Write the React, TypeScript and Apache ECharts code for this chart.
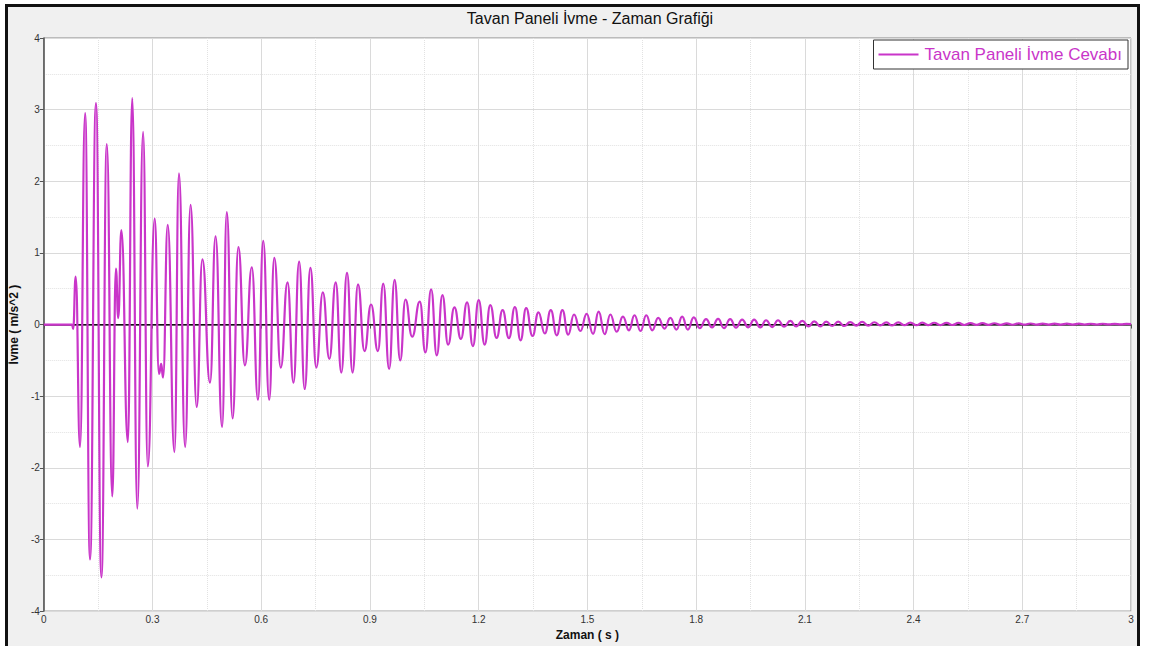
import React, { useEffect, useRef } from "react";
import * as echarts from "echarts";

const chartTitle = "Tavan Paneli İvme - Zaman Grafiği";
const seriesName = "Tavan Paneli İvme Cevabı";
const xAxisName = "Zaman ( s )";
const yAxisName = "İvme ( m/s^2 )";

// Extrema (peaks / troughs), time in s
const times = [
  0, 0.078, 0.081, 0.088, 0.1, 0.114, 0.1275, 0.144, 0.159, 0.174, 0.189, 0.199, 0.2055, 0.214,
  0.232, 0.244, 0.258, 0.274, 0.287, 0.306, 0.318, 0.324, 0.329, 0.342, 0.3605, 0.373, 0.39,
  0.405, 0.422, 0.4376, 0.4587, 0.474, 0.492, 0.505, 0.521, 0.537, 0.555, 0.574, 0.591, 0.6055,
  0.622, 0.636, 0.654, 0.6725, 0.689, 0.7046, 0.72, 0.7357, 0.752, 0.77, 0.788, 0.8055, 0.821,
  0.8367, 0.852, 0.867, 0.885, 0.903, 0.922, 0.9367, 0.953, 0.968, 0.9835, 0.998, 1.0165,
  1.0376, 1.053, 1.0688, 1.0844, 1.1, 1.1156, 1.133, 1.151, 1.168, 1.184, 1.2, 1.2165, 1.232,
  1.2495, 1.266, 1.2835, 1.3, 1.3156, 1.331, 1.3486, 1.365, 1.3825, 1.399, 1.4156, 1.431, 1.447,
  1.463, 1.4807, 1.498, 1.5157, 1.531, 1.5477, 1.5633, 1.5807, 1.598, 1.6147, 1.63, 1.6467,
  1.6624, 1.679, 1.6954, 1.7128, 1.729, 1.7458, 1.7615, 1.777, 1.7936, 1.81, 1.8275, 1.844,
  1.8606, 1.877, 1.894, 1.91, 1.927, 1.944, 1.96, 1.977, 1.993, 2.01, 2.026, 2.043, 2.06, 2.076,
  2.093, 2.11, 2.126, 2.143, 2.159, 2.176, 2.192, 2.209, 2.225, 2.242, 2.258, 2.275, 2.292,
  2.308, 2.325, 2.341, 2.358, 2.375, 2.391, 2.408, 2.424, 2.441, 2.457, 2.474, 2.491, 2.507,
  2.524, 2.54, 2.557, 2.574, 2.59, 2.607, 2.623, 2.64, 2.657, 2.673, 2.69, 2.706, 2.723, 2.74,
  2.756, 2.773, 2.789, 2.806, 2.823, 2.839, 2.856, 2.872, 2.889, 2.906, 2.922, 2.939, 2.955,
  2.972, 2.988, 3.0,
];

// Acceleration in m/s^2 at each time above
const accel = [
  0, 0, -0.06, 0.67, -1.71, 2.95, -3.28, 3.09, -3.53, 2.52, -2.4, 0.78, 0.09, 1.32,
  -1.64, 3.16, -2.57, 2.69, -1.98, 1.48, -0.69, -0.55, -0.74, 1.39, -1.78, 2.11, -1.71,
  1.67, -1.15, 0.91, -0.81, 1.23, -1.43, 1.57, -1.31, 1.08, -0.57, 0.8, -1.05, 1.17,
  -1.05, 0.93, -0.6, 0.59, -0.81, 0.88, -0.9, 0.79, -0.6, 0.45, -0.48, 0.59, -0.67,
  0.72, -0.67, 0.56, -0.37, 0.28, -0.37, 0.57, -0.62, 0.625, -0.5, 0.35, -0.17,
  0.32, -0.39, 0.49, -0.43, 0.41, -0.28, 0.24, -0.2, 0.31, -0.3, 0.34, -0.28, 0.27,
  -0.185, 0.2, -0.19, 0.245, -0.22, 0.23, -0.16, 0.17, -0.125, 0.2, -0.15, 0.2, -0.14,
  0.14, -0.09, 0.15, -0.13, 0.18, -0.135, 0.14, -0.1, 0.11, -0.08, 0.13, -0.09,
  0.13, -0.08, 0.093, -0.056, 0.093, -0.07, 0.11, -0.07, 0.1, -0.05, 0.075, -0.04,
  0.08, -0.05, 0.075, -0.045, 0.07, -0.04, 0.07, -0.04, 0.06, -0.035, 0.06, -0.03, 0.05, -0.025,
  0.05, -0.025, 0.045, -0.025, 0.04, -0.02, 0.042, -0.02, 0.035, -0.015, 0.038, -0.015, 0.032,
  -0.012, 0.03, -0.012, 0.03, -0.01, 0.028, -0.01, 0.027, -0.008, 0.025, -0.008, 0.024, -0.006,
  0.022, -0.006, 0.02, -0.005, 0.02, -0.004, 0.018, -0.004, 0.017, -0.003, 0.016, -0.002, 0.015, -0.002,
  0.014, -0.001, 0.013, 0, 0.012, 0, 0.012, 0.001, 0.011, 0.001, 0.011, 0.002, 0.01,
  0.002, 0.01, 0.005,
];

const zeroTimes = [0, 3];
const zeroValues = [0, 0];

const FONT = "'Liberation Sans', Arial, sans-serif";
const MAGENTA = "#c935c9";

export default function App() {
  const ref = useRef<HTMLDivElement>(null);

  useEffect(() => {
    if (!ref.current) return;
    const chart = echarts.init(ref.current, undefined, { renderer: "svg" });
    const data = times.map((t, i) => [t, accel[i]]);
    const zero = zeroTimes.map((t, i) => [t, zeroValues[i]]);
    chart.setOption({
      animation: false,
      backgroundColor: "transparent",
      textStyle: { fontFamily: FONT },
      title: {
        text: chartTitle,
        left: 585,
        textAlign: "center",
        top: 5,
        textStyle: { fontFamily: FONT, fontSize: 16, fontWeight: "normal", color: "#111" },
      },
      legend: {
        data: [{ name: seriesName, icon: "rect" }],
        right: 22,
        top: 40,
        backgroundColor: "#fff",
        borderColor: "#333",
        borderWidth: 1,
        borderRadius: 0,
        padding: [6, 6, 6, 5],
        itemWidth: 40,
        itemHeight: 2,
        itemGap: 4,
        itemStyle: { color: MAGENTA, borderWidth: 0 },
        textStyle: { fontFamily: FONT, fontSize: 17, color: MAGENTA, padding: [0, 0, 0, 1] },
      },
      grid: {
        left: 40,
        right: 19,
        top: 38,
        bottom: 32,
        show: true,
        backgroundColor: "#fff",
        borderColor: "#888",
        borderWidth: 1,
      },
      xAxis: {
        type: "value",
        min: 0,
        max: 3,
        interval: 0.3,
        name: xAxisName,
        nameLocation: "middle",
        nameGap: 14,
        nameTextStyle: { fontFamily: FONT, fontSize: 12, fontWeight: "bold", color: "#111" },
        axisLine: { show: true, lineStyle: { color: "#555", width: 1.5 } },
        axisTick: { show: true, length: 4, lineStyle: { color: "#555" } },
        axisLabel: { fontFamily: FONT, fontSize: 10, color: "#333", margin: 3 },
        splitLine: { show: true, lineStyle: { color: "#dadada", width: 1 } },
        minorTick: { show: false, splitNumber: 2 },
        minorSplitLine: { show: true, lineStyle: { color: "#e2e2e2", type: "dotted", width: 1 } },
      },
      yAxis: {
        type: "value",
        min: -4,
        max: 4,
        interval: 1,
        name: yAxisName,
        nameLocation: "middle",
        nameGap: 14,
        nameTextStyle: { fontFamily: FONT, fontSize: 12, fontWeight: "bold", color: "#111" },
        axisLine: { show: true, lineStyle: { color: "#555", width: 1.5 } },
        axisTick: { show: true, length: 4, lineStyle: { color: "#555" } },
        axisLabel: { fontFamily: FONT, fontSize: 10, color: "#333", margin: 4 },
        splitLine: { show: true, lineStyle: { color: "#dadada", width: 1 } },
        minorTick: { show: false, splitNumber: 2 },
        minorSplitLine: { show: true, lineStyle: { color: "#e2e2e2", type: "dotted", width: 1 } },
      },
      series: [
        {
          name: "zero",
          type: "line",
          data: zero,
          symbol: "none",
          silent: true,
          z: 1,
          lineStyle: { color: "#111", width: 1.3 },
        },
        {
          name: seriesName,
          type: "line",
          data,
          smooth: true,
          smoothMonotone: "x",
          symbol: "none",
          z: 3,
          color: MAGENTA,
          lineStyle: { color: MAGENTA, width: 2.2 },
        },
      ],
    });
    return () => chart.dispose();
  }, []);

  return (
    <div style={{ position: "fixed", left: 0, top: 0, width: 1150, height: 646, background: "#fff", overflow: "hidden" }}>
      <div
        style={{
          position: "absolute",
          left: 5,
          top: 4,
          width: 1129,
          height: 660,
          border: "3px solid #111",
          background: "#f0f0f0",
        }}
      />
      <div ref={ref} style={{ position: "absolute", left: 0, top: 0, width: 1150, height: 646 }} />
    </div>
  );
}
